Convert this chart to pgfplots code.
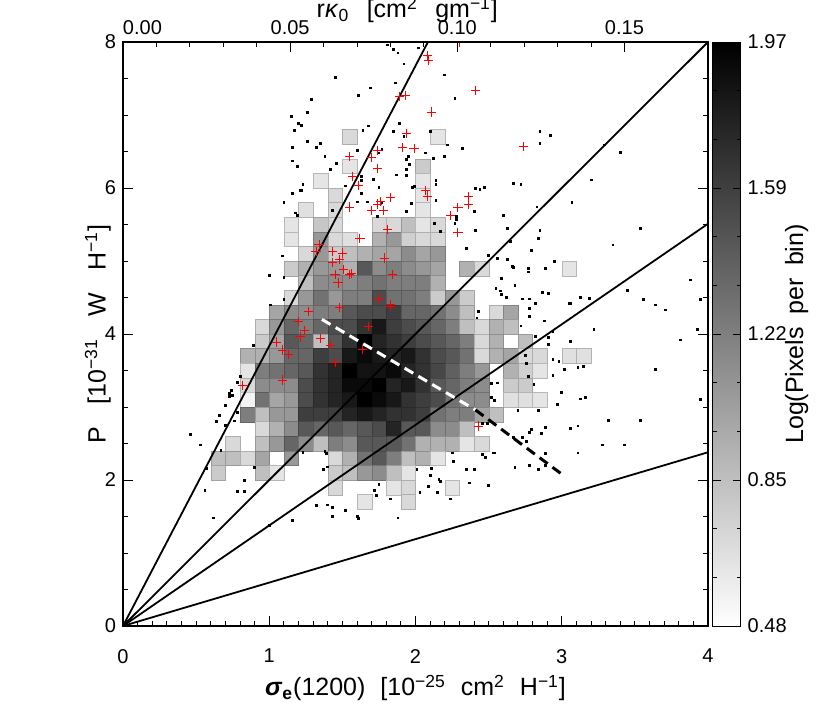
\documentclass[border=0pt]{standalone}
\usepackage{fontspec}
\setmainfont{Liberation Sans}
\usepackage{pgfplots}
\usepackage{pgfplotstable}
\pgfplotsset{compat=1.18}

% 2-D histogram: bin centres (0.1 x 0.2) and log(pixels per bin)
\pgfplotstableread{
x y v
1.55 6.7 0.70
2.15 6.7 0.63
1.55 6.3 0.63
2.05 6.3 0.78
1.35 6.1 0.63
2.05 6.1 0.63
1.45 5.9 0.70
2.05 5.9 0.63
1.25 5.7 0.66
1.45 5.7 0.70
2.05 5.7 0.63
1.15 5.5 0.63
1.35 5.5 0.81
1.45 5.5 0.70
1.75 5.5 0.70
1.85 5.5 0.70
1.95 5.5 0.85
2.05 5.5 0.63
2.15 5.5 0.70
1.15 5.3 0.63
1.35 5.3 1.08
1.45 5.3 0.70
1.55 5.3 0.66
1.75 5.3 0.93
1.85 5.3 1.08
1.95 5.3 0.75
2.05 5.3 0.70
2.15 5.3 0.70
1.25 5.1 0.70
1.35 5.1 1.08
1.45 5.1 0.78
1.55 5.1 0.85
1.65 5.1 0.93
1.75 5.1 1.00
1.85 5.1 1.00
1.95 5.1 1.15
2.05 5.1 1.00
2.15 5.1 1.08
1.15 4.9 0.78
1.25 4.9 0.93
1.35 4.9 1.08
1.45 4.9 1.08
1.55 4.9 0.93
1.65 4.9 1.45
1.75 4.9 1.15
1.85 4.9 1.23
1.95 4.9 1.15
2.05 4.9 1.08
2.15 4.9 1.00
2.35 4.9 0.93
2.45 4.9 0.70
3.05 4.9 0.63
1.25 4.7 0.85
1.35 4.7 1.15
1.45 4.7 1.15
1.55 4.7 1.15
1.65 4.7 1.23
1.75 4.7 1.30
1.85 4.7 1.23
1.95 4.7 1.23
2.05 4.7 1.23
2.15 4.7 0.93
1.15 4.5 0.70
1.25 4.5 1.08
1.35 4.5 1.30
1.45 4.5 1.08
1.55 4.5 1.23
1.65 4.5 1.23
1.75 4.5 1.52
1.85 4.5 1.30
1.95 4.5 1.30
2.05 4.5 1.23
2.15 4.5 0.78
2.25 4.5 1.08
2.35 4.5 0.78
1.05 4.3 1.00
1.15 4.3 1.15
1.25 4.3 1.15
1.35 4.3 1.23
1.45 4.3 1.23
1.55 4.3 1.45
1.65 4.3 1.52
1.75 4.3 1.52
1.85 4.3 1.60
1.95 4.3 1.37
2.05 4.3 1.37
2.15 4.3 1.30
2.25 4.3 1.15
2.35 4.3 0.85
2.55 4.3 0.70
2.65 4.3 1.00
0.95 4.1 0.70
1.05 4.1 1.08
1.15 4.1 1.37
1.25 4.1 1.23
1.35 4.1 1.37
1.45 4.1 1.52
1.55 4.1 1.52
1.65 4.1 1.67
1.75 4.1 1.82
1.85 4.1 1.60
1.95 4.1 1.52
2.05 4.1 1.45
2.15 4.1 1.37
2.25 4.1 1.23
2.35 4.1 0.85
2.45 4.1 0.70
2.55 4.1 0.93
2.65 4.1 0.85
0.95 3.9 0.78
1.05 3.9 1.00
1.15 3.9 1.45
1.25 3.9 1.37
1.35 3.9 0.85
1.45 3.9 1.45
1.55 3.9 1.67
1.65 3.9 1.97
1.75 3.9 1.75
1.85 3.9 1.67
1.95 3.9 1.60
2.05 3.9 1.52
2.15 3.9 1.45
2.25 3.9 1.37
2.35 3.9 1.23
2.45 3.9 0.70
2.55 3.9 0.93
2.75 3.9 0.85
0.85 3.7 0.93
0.95 3.7 0.93
1.05 3.7 1.08
1.15 3.7 1.37
1.25 3.7 1.37
1.35 3.7 1.60
1.45 3.7 1.52
1.55 3.7 1.82
1.65 3.7 1.90
1.75 3.7 1.82
1.85 3.7 1.75
1.95 3.7 1.82
2.05 3.7 1.67
2.15 3.7 1.52
2.25 3.7 1.45
2.35 3.7 1.30
2.45 3.7 0.70
2.55 3.7 0.93
2.65 3.7 1.00
2.75 3.7 0.70
2.85 3.7 0.70
3.05 3.7 0.66
3.15 3.7 0.66
0.85 3.5 0.63
0.95 3.5 1.23
1.05 3.5 1.30
1.15 3.5 1.37
1.25 3.5 1.45
1.35 3.5 1.67
1.45 3.5 1.75
1.55 3.5 1.97
1.65 3.5 1.85
1.75 3.5 1.85
1.85 3.5 1.90
1.95 3.5 1.75
2.05 3.5 1.67
2.15 3.5 1.55
2.25 3.5 1.40
2.35 3.5 1.23
2.45 3.5 1.08
2.65 3.5 0.93
2.75 3.5 0.75
2.85 3.5 0.63
0.85 3.3 0.70
0.95 3.3 1.15
1.05 3.3 1.15
1.15 3.3 1.15
1.25 3.3 1.52
1.35 3.3 1.67
1.45 3.3 1.75
1.55 3.3 1.90
1.65 3.3 1.90
1.75 3.3 1.97
1.85 3.3 1.75
1.95 3.3 1.82
2.05 3.3 1.67
2.15 3.3 1.45
2.25 3.3 1.37
2.35 3.3 1.23
2.45 3.3 1.15
2.65 3.3 0.78
2.75 3.3 0.78
0.85 3.1 0.55
0.95 3.1 1.30
1.05 3.1 1.00
1.15 3.1 1.08
1.25 3.1 1.52
1.35 3.1 1.67
1.45 3.1 1.75
1.55 3.1 1.82
1.65 3.1 1.97
1.75 3.1 1.90
1.85 3.1 1.82
1.95 3.1 1.67
2.05 3.1 1.60
2.15 3.1 1.52
2.25 3.1 1.30
2.35 3.1 1.15
2.45 3.1 1.15
2.65 3.1 0.66
2.75 3.1 0.66
2.85 3.1 0.63
0.85 2.9 1.23
0.95 2.9 0.85
1.05 2.9 1.08
1.15 2.9 1.08
1.25 2.9 1.60
1.35 2.9 1.60
1.45 2.9 1.60
1.55 2.9 1.75
1.65 2.9 1.82
1.75 2.9 1.75
1.85 2.9 1.67
1.95 2.9 1.67
2.05 2.9 1.60
2.15 2.9 1.30
2.25 2.9 1.23
2.35 2.9 1.23
2.45 2.9 1.00
2.55 2.9 0.85
0.95 2.7 0.70
1.05 2.7 0.93
1.15 2.7 1.15
1.25 2.7 1.45
1.35 2.7 1.37
1.45 2.7 1.45
1.55 2.7 1.37
1.65 2.7 1.45
1.75 2.7 1.52
1.85 2.7 1.75
1.95 2.7 1.45
2.05 2.7 1.45
2.15 2.7 1.15
2.25 2.7 1.15
2.35 2.7 0.85
0.75 2.5 0.70
0.95 2.5 0.85
1.05 2.5 1.08
1.15 2.5 1.37
1.25 2.5 1.15
1.35 2.5 0.85
1.45 2.5 1.23
1.55 2.5 1.15
1.65 2.5 1.45
1.75 2.5 1.45
1.85 2.5 1.45
1.95 2.5 1.30
2.05 2.5 0.93
2.15 2.5 0.93
2.25 2.5 0.93
2.35 2.5 0.63
2.45 2.5 0.70
0.65 2.3 0.85
0.75 2.3 0.85
0.85 2.3 0.70
0.95 2.3 1.00
1.15 2.3 1.08
1.45 2.3 0.70
1.55 2.3 0.93
1.65 2.3 1.30
1.75 2.3 1.45
1.85 2.3 1.23
1.95 2.3 0.85
2.05 2.3 0.93
2.15 2.3 0.63
0.65 2.1 0.78
0.95 2.1 0.85
1.05 2.1 0.63
1.45 2.1 0.78
1.55 2.1 0.85
1.65 2.1 1.08
1.75 2.1 1.15
1.85 2.1 0.85
1.95 2.1 0.63
1.45 1.9 0.70
1.85 1.9 0.63
1.95 1.9 0.70
2.25 1.9 0.63
1.65 1.7 0.63
1.95 1.7 0.70
}\histo

% single pixels outside the dense region
\pgfplotstableread{
x y
1.15 6.98
1.26 7.04
1.20 6.89
1.22 6.86
1.17 6.79
1.26 6.64
1.32 6.56
1.35 6.61
1.16 6.56
1.38 6.43
1.16 6.37
1.19 6.30
1.46 6.34
1.42 6.25
1.23 6.05
1.21 5.97
1.22 5.97
1.16 5.93
1.10 5.80
1.18 5.66
1.19 5.63
1.43 5.69
1.89 6.89
1.68 6.85
1.64 6.79
1.85 6.77
1.92 6.71
2.10 6.77
2.22 6.59
2.32 6.54
1.60 6.52
1.77 6.53
1.75 6.48
1.95 6.43
1.94 6.39
2.07 6.48
2.12 6.41
2.20 6.43
1.96 6.32
1.94 6.25
1.87 6.18
1.94 6.17
1.98 6.01
1.99 6.02
1.71 6.12
1.63 6.16
1.63 6.10
1.52 6.03
1.75 6.01
1.63 5.93
1.60 5.81
1.67 5.81
1.77 5.80
1.97 5.79
1.74 5.61
1.94 5.68
2.14 6.10
2.14 6.05
2.14 5.83
2.13 5.51
2.17 5.41
2.28 5.61
2.28 5.57
2.27 5.51
2.85 6.78
2.92 6.72
2.85 6.61
2.41 6.00
2.44 5.98
2.47 6.01
2.67 6.06
2.72 6.05
3.20 6.11
2.40 5.68
2.60 5.63
2.83 5.74
3.07 5.80
2.41 5.42
2.63 5.45
2.85 5.42
2.84 5.31
2.65 5.27
1.09 5.07
1.00 4.80
1.10 4.77
1.10 4.47
1.01 4.40
0.89 3.84
0.80 3.42
2.35 5.17
2.50 5.08
2.56 5.04
2.63 5.02
2.79 5.14
2.66 4.93
2.67 4.91
2.77 4.90
2.77 4.85
2.89 4.90
2.95 5.00
2.59 4.76
2.68 4.67
2.55 4.63
2.58 4.59
2.59 4.54
2.62 4.50
2.73 4.48
2.78 4.48
2.82 4.42
2.87 4.57
2.91 4.56
2.78 4.35
2.78 4.24
2.72 4.11
2.88 4.18
2.43 4.31
2.42 4.22
3.05 4.42
3.06 4.42
3.13 4.50
3.19 4.49
2.94 4.03
2.91 3.95
2.82 3.97
2.91 3.86
3.06 3.90
3.22 4.06
2.75 3.71
2.76 3.60
2.94 3.65
2.98 3.62
3.11 3.54
3.15 3.56
3.02 3.51
2.94 3.43
2.77 3.42
0.78 3.34
0.74 3.23
0.73 3.19
0.75 3.16
0.73 3.14
0.70 3.02
0.66 2.88
0.78 2.93
0.76 2.81
0.64 2.80
0.70 2.75
0.67 2.41
1.23 2.38
1.38 2.39
1.39 2.36
0.90 2.17
1.40 2.18
1.37 2.14
0.83 1.99
0.78 1.84
0.83 1.84
1.32 1.65
1.40 1.66
1.43 1.63
1.16 1.45
1.43 1.50
1.75 1.94
1.72 1.86
1.73 1.79
1.83 1.74
2.03 1.83
2.01 2.14
2.11 2.16
2.10 2.06
2.16 2.01
2.17 1.98
2.09 1.91
2.15 1.83
2.25 2.37
2.26 2.26
2.35 2.15
2.37 1.96
2.24 1.74
1.52 1.58
1.60 1.50
1.61 1.47
1.88 1.48
2.52 3.32
2.56 3.33
2.81 3.31
3.00 3.20
2.52 3.13
2.54 3.09
3.13 3.11
3.16 3.13
2.97 3.04
2.70 2.95
2.84 2.95
2.49 2.77
2.46 2.77
2.79 2.69
2.89 2.72
2.86 2.64
3.06 2.71
3.11 2.74
2.67 2.58
2.73 2.58
2.76 2.53
2.78 2.65
2.53 2.37
2.54 2.37
2.46 2.35
2.48 2.31
2.89 2.36
2.89 2.20
2.84 2.14
2.78 2.20
2.68 2.17
3.11 2.37
2.40 2.15
2.50 1.93
0.56 1.86
0.57 2.16
0.53 2.48
0.46 2.62
0.62 1.48
1.00 1.38
3.29 6.59
3.40 6.49
3.35 5.22
3.45 4.60
3.54 5.45
3.56 4.47
3.64 4.40
3.71 4.33
3.88 4.74
3.95 4.47
3.93 4.06
3.81 3.92
3.95 3.10
3.64 3.51
3.54 2.82
3.32 2.82
3.43 2.48
3.28 2.48
1.81 7.96
1.85 7.90
1.88 7.85
1.92 7.70
2.02 7.92
1.86 7.44
2.20 7.55
2.27 7.23
1.61 7.27
1.29 7.21
1.45 7.51
1.69 7.37
}\blackpts

% points of the selected sample
\pgfplotstableread{
x y
2.11 7.04
1.94 6.75
1.91 6.56
1.99 6.54
1.55 6.43
1.74 6.51
1.70 6.42
1.74 6.27
1.57 6.16
1.61 6.03
1.55 5.74
1.70 5.69
1.78 5.69
1.76 5.81
1.83 5.87
1.74 5.78
2.07 5.97
2.08 5.89
2.29 5.73
2.36 5.88
2.36 5.78
2.24 5.62
2.29 5.39
1.81 5.43
1.62 5.31
2.74 6.57
1.34 5.23
1.32 5.13
1.43 5.13
1.50 5.11
1.43 4.98
1.48 5.02
1.45 4.81
1.47 4.70
1.51 4.88
1.48 4.36
1.27 4.31
1.20 4.17
1.24 4.05
1.21 3.96
1.35 3.94
1.42 3.85
1.05 3.89
1.09 3.78
1.13 3.72
1.45 3.61
1.09 3.37
1.56 4.83
1.55 4.82
1.79 5.04
1.84 4.82
1.75 4.48
1.83 4.38
1.83 4.40
1.68 4.10
1.64 3.79
0.82 3.30
2.43 2.74
2.08 7.81
2.09 7.75
1.89 7.25
1.93 7.27
2.41 7.34
2.30 7.99
}\redpts

\begin{document}
\begin{tikzpicture}
\begin{axis}[
  name=main,
  scale only axis, width=292.5pt, height=292pt,
  xmin=0, xmax=4, ymin=0, ymax=8,
  clip marker paths=true,
  xtick={0,1,2,3,4}, ytick={0,2,4,6,8},
  minor x tick num=9, minor y tick num=3,
  xtick pos=bottom, ytick pos=both,
  tick align=inside,
  major tick length=5pt, minor tick length=2.5pt,
  tick style={black, line width=0.5pt},
  axis line style={black, line width=0.6pt},
  tick label style={font=\fontsize{10}{12}\selectfont},
  /pgf/number format/assume math mode=true,
  xticklabel style={yshift=-8pt},
  label style={font=\fontsize{12.5}{14}\selectfont},
  xlabel={\textbf{\textit{σ}\textsubscript{e}}(1200)\hspace{0.6em}[10\textsuperscript{−25}\hspace{0.6em}cm\textsuperscript{2}\hspace{0.6em}H\textsuperscript{−1}]},
  xlabel style={at={(axis description cs:0.5,-0.106)}, anchor=center},
  ylabel={P\hspace{0.9em}[10\textsuperscript{−31}\hspace{0.9em}W\hspace{0.9em}H\textsuperscript{−1}]},
  ylabel style={at={(axis description cs:-0.043,0.5)}, anchor=center},
  colormap={gw}{gray(0cm)=(1); gray(1cm)=(0)},
  point meta min=0.48, point meta max=1.97,
  colorbar,
  colorbar style={
    at={(parent axis.north east)}, anchor=north west, xshift=-6.2pt,
    scale only axis, width=14pt, height=292pt,
    ytick={0.48,0.8525,1.225,1.5975,1.97},
    yticklabels={0.48,0.85,1.22,1.59,1.97},
    minor y tick num=2,
    tick align=inside,
    major tick length=4pt, minor tick length=2pt,
    yticklabel style={font=\fontsize{10}{12}\selectfont},
    ylabel={Log(Pixels\hspace{0.5em}per\hspace{0.5em}bin)},
    every axis y label/.style={at={(axis description cs:3.0,0.5)}, rotate=90,
      anchor=center, font=\fontsize{12.5}{14}\selectfont},
  },
]
\addplot[scatter, only marks, mark=square*, mark size=3.66pt,
  scatter src=explicit, mark options={line width=0.1pt}]
  table[x=x, y=y, meta=v] {\histo};

\addplot[black, line width=0.9pt] coordinates {(0,0) (2.085,8)};
\addplot[black, line width=0.9pt] coordinates {(0,0) (4,8)};
\addplot[black, line width=0.9pt] coordinates {(0,0) (4,5.51)};
\addplot[black, line width=0.9pt] coordinates {(0,0) (4,2.38)};

\addplot[only marks, mark=square*, mark size=0.45pt, black] table {\blackpts};
\addplot[only marks, mark=+, mark size=2.3pt, red, mark options={line width=0.45pt}] table {\redpts};

\addplot[draw=white, line width=1.5pt, dash pattern=on 5pt off 3pt] coordinates {(1.36,4.2) (2.41,2.96)};
\addplot[draw=black, line width=1.5pt, dash pattern=on 5pt off 3pt] coordinates {(2.41,2.96) (3.0,2.08)};
\end{axis}

\begin{axis}[
  at={(main.south west)}, anchor=south west,
  scale only axis, width=292.5pt, height=292pt,
  xmin=0, xmax=0.175, ymin=0, ymax=1,
  axis x line*=top, hide y axis,
  xtick={0,0.05,0.1,0.15},
  xticklabels={\makebox[0pt][l]{0.00},0.05,0.10,0.15},
  minor x tick num=4,
  tick align=inside,
  major tick length=5pt, minor tick length=2.5pt,
  tick style={black, line width=0.5pt},
  axis line style={black, line width=0.6pt},
  tick label style={font=\fontsize{10}{12}\selectfont},
  label style={font=\fontsize{12.5}{14}\selectfont},
  xlabel={r\textit{κ}\textsubscript{0}\hspace{0.7em}[cm\textsuperscript{2}\hspace{0.7em}gm\textsuperscript{−1}]},
  xlabel style={at={(axis description cs:0.486,1)}, anchor=south, yshift=6pt},
]
\addplot[draw=none] coordinates {(0,0)};
\end{axis}

\pgfresetboundingbox
\path ([shift={(-61.5pt,-43pt)}]main.south west) rectangle ([shift={(353.5pt,313pt)}]main.south west);
\end{tikzpicture}
\end{document}
